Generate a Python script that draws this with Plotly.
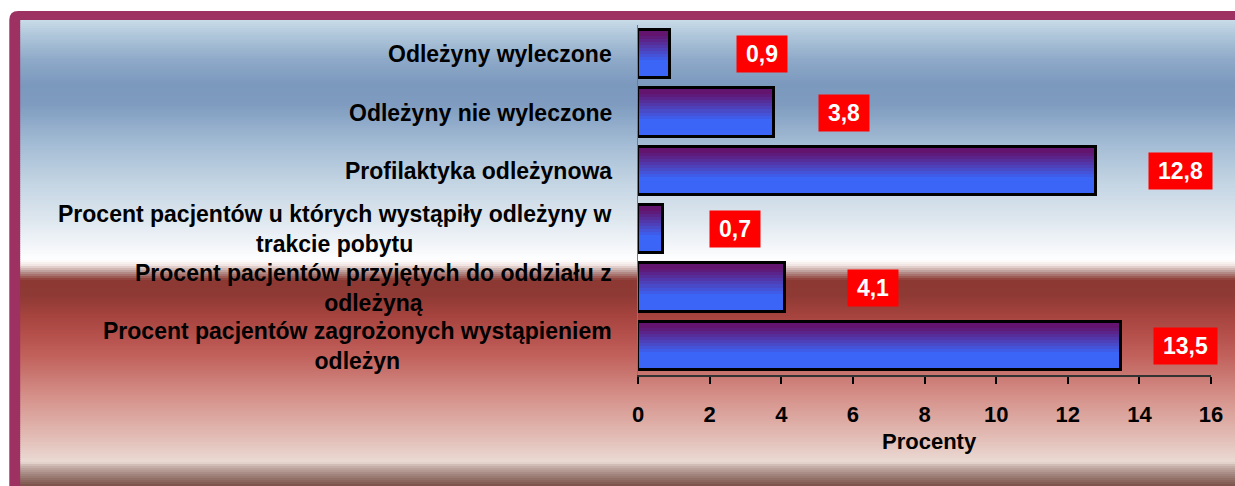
import plotly.graph_objects as go

# ---------------- data ----------------
categories = [
    "Odleżyny wyleczone",
    "Odleżyny nie wyleczone",
    "Profilaktyka odleżynowa",
    "Procent pacjentów u których wystąpiły odleżyny w trakcie pobytu",
    "Procent pacjentów przyjętych do oddziału z odleżyną",
    "Procent pacjentów zagrożonych wystąpieniem odleżyn",
]
category_labels = [
    "Odleżyny wyleczone",
    "Odleżyny nie wyleczone",
    "Profilaktyka odleżynowa",
    "Procent pacjentów u których wystąpiły odleżyny w<br>trakcie pobytu",
    "Procent pacjentów przyjętych do oddziału z<br>odleżyną",
    "Procent pacjentów zagrożonych wystąpieniem<br>odleżyn",
]
values = [0.9, 3.8, 12.8, 0.7, 4.1, 13.5]
value_texts = ["0,9", "3,8", "12,8", "0,7", "4,1", "13,5"]
label_offsets = [2.56, 1.94, 2.35, 2.0, 2.46, 1.8]   # label box distance from bar end (x units)
x_ticks = [0, 2, 4, 6, 8, 10, 12, 14, 16]
axis_title = "Procenty"

# ---------------- geometry helpers ----------------
W, H = 1235, 486
L, R, T, B = 638, 1214, 25, 375
FONT = "Liberation Sans, Arial, sans-serif"


def px(xp):
    return (xp - L) / (R - L)


def py(yp):
    return (B - yp) / (B - T)


def h2r(h):
    h = h.lstrip('#')
    return tuple(int(h[i:i + 2], 16) for i in (0, 2, 4))


def mix(c1, c2, t):
    a, b = h2r(c1), h2r(c2)
    return 'rgb(%d,%d,%d)' % tuple(round(a[i] + (b[i] - a[i]) * t) for i in range(3))


shapes = []
# magenta frame with rounded top-left corner
fx0, fy0, fx1, fy1, rad = 6, 11, 1245, 495, 9
shapes.append(dict(
    type="path", xref="paper", yref="paper", layer="below",
    path=(f"M {px(fx0)},{py(fy1)} L {px(fx0)},{py(fy0 + rad)} "
          f"Q {px(fx0)},{py(fy0)} {px(fx0 + rad)},{py(fy0)} "
          f"L {px(fx1)},{py(fy0)} L {px(fx1)},{py(fy1)} Z"),
    fillcolor="#9c3162", line=dict(width=0)))

# background gradient bands
stops = [(20, '#c9dbe8'), (35, '#b0c7db'), (60, '#8ea9c8'), (85, '#7b98bd'), (105, '#7f9cc0'),
         (140, '#a0b9d3'), (180, '#c1d3e2'), (220, '#dee7ef'), (250, '#f6f8fb'), (260, '#ffffff'),
         (265, '#f2e6e4'), (272, '#b99591'), (280, '#8c3833'), (295, '#8e3934'), (315, '#a5433e'),
         (335, '#b5504b'), (355, '#c1605b'), (375, '#ca7771'), (395, '#d48f88'), (415, '#dba59e'),
         (435, '#e1bab3'), (455, '#e8d2cb'), (462, '#eadad3'), (466, '#c9b3ad'), (474, '#a48880'),
         (486, '#7a5048')]


def color_at(y):
    for (y0, c0), (y1, c1) in zip(stops[:-1], stops[1:]):
        if y0 <= y <= y1:
            return mix(c0, c1, (y - y0) / (y1 - y0) if y1 > y0 else 0)
    return stops[-1][1]


step = 2
y = 20
while y < 490:
    shapes.append(dict(type="rect", xref="paper", yref="paper", layer="below",
                       x0=px(17), x1=px(1245), y0=py(y), y1=py(y + step + 0.6),
                       fillcolor=color_at(y + step / 2), line=dict(width=0)))
    y += step

# ---------------- traces ----------------
fig = go.Figure()
bw = 0.83
N = 16
top_c, bot_c = '#62146f', '#3b65f6'
for i in range(N):
    t = i / N
    if t < 0.08:
        c = mix(top_c, top_c, 0)
    elif t > 0.62:
        c = mix(bot_c, bot_c, 0)
    else:
        c = mix(top_c, bot_c, (t - 0.08) / 0.54)
    fig.add_trace(go.Bar(
        x=values, y=categories, orientation='h',
        offset=-bw / 2 + i * bw / N, width=bw - i * bw / N,
        marker=dict(color=c, line=dict(width=0)),
        hoverinfo='skip', showlegend=False))

fig.add_trace(go.Bar(
    x=values, y=categories, orientation='h',
    offset=-bw / 2, width=bw,
    marker=dict(color='rgba(0,0,0,0)', line=dict(color='black', width=3)),
    hoverinfo='skip', showlegend=False))

annotations = []
for cat, lab in zip(categories, category_labels):
    annotations.append(dict(
        xref='paper', yref='y', x=0, y=cat, xanchor='right', yanchor='middle',
        xshift=-24, text=lab, showarrow=False, align='center',
        font=dict(family=FONT, size=23, color='black', weight='bold')))

for cat, v, txt, off in zip(categories, values, value_texts, label_offsets):
    annotations.append(dict(
        xref='x', yref='y', x=v + off, y=cat, xanchor='center', yanchor='middle',
        text=txt, showarrow=False, bgcolor='#ff0000', borderpad=3,
        width=13 * len(txt) + 5, height=30, align='center',
        font=dict(family=FONT, size=23, color='white', weight='bold')))

annotations.append(dict(
    xref='paper', yref='paper', x=px(931), y=py(441), xanchor='center', yanchor='middle',
    text=axis_title, showarrow=False,
    font=dict(family=FONT, size=22, color='black', weight='bold')))

fig.update_layout(
    width=W, height=H,
    margin=dict(l=L, r=W - R, t=T, b=H - B, pad=0),
    paper_bgcolor='white', plot_bgcolor='rgba(0,0,0,0)',
    barmode='overlay', bargap=0,
    shapes=shapes, annotations=annotations,
    showlegend=False,
    xaxis=dict(range=[0, 16], tickvals=x_ticks, ticktext=[str(v) for v in x_ticks],
               ticks='outside', ticklen=7, tickwidth=2, tickcolor='black',
               showline=True, linecolor='#333333', linewidth=1.5,
               showgrid=False, zeroline=False, ticklabelstandoff=12,
               tickfont=dict(family=FONT, size=22, color='black', weight='bold')),
    yaxis=dict(type='category', categoryarray=categories, range=[5.5, -0.5],
               showticklabels=False, ticks='', showline=True, linecolor='#7a7a7a',
               linewidth=1, showgrid=False, zeroline=False),
)

fig.write_html("out.html", config={'displayModeBar': False},
               post_script="document.body.style.margin='0';document.body.style.overflow='hidden';")
